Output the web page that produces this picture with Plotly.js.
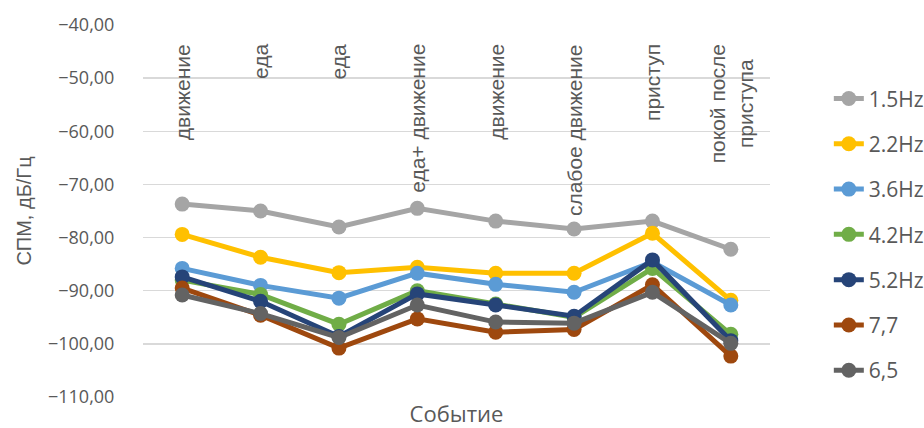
<!DOCTYPE html>
<html><head><meta charset="utf-8">
<script src="https://cdn.plot.ly/plotly-3.0.1.min.js"></script>
<style>html,body{margin:0;padding:0;background:#fff}#chart{width:924px;height:428px}</style>
</head><body><div id="chart"></div>
<script>
const categories = ["движение","еда","еда","еда+ движение","движение","слабое движение","приступ","покой после<br>приступа"];
const seriesNames = ["1.5Hz","2.2Hz","3.6Hz","4.2Hz","5.2Hz","7,7","6,5"];
const s15 = [-73.7,-75.0,-78.0,-74.5,-76.9,-78.4,-76.9,-82.2];
const s22 = [-79.4,-83.7,-86.6,-85.6,-86.7,-86.7,-79.2,-91.8];
const s36 = [-85.8,-89.0,-91.4,-86.7,-88.8,-90.3,-84.6,-92.7];
const s42 = [-88.0,-90.7,-96.3,-90.0,-92.5,-95.0,-85.8,-98.2];
const s52 = [-87.4,-92.0,-98.6,-90.6,-92.7,-94.8,-84.2,-99.4];
const s77 = [-89.5,-94.6,-100.8,-95.3,-97.8,-97.3,-88.9,-102.3];
const s65 = [-90.8,-94.3,-98.8,-92.7,-95.9,-96.1,-90.3,-99.9];
const colors = ["#A5A5A5","#FFC000","#5B9BD5","#70AD47","#264478","#9E480E","#636363"];
const allSeries = [s15,s22,s36,s42,s52,s77,s65];
const xIdx = categories.map((c,i)=>i);

const traces = allSeries.map((s,k)=>({
  type:'scatter', mode:'lines+markers', name:seriesNames[k], legendgroup:'g'+k,
  x:xIdx, y:s, line:{color:colors[k], width:5}, marker:{color:colors[k], size:15},
  hoverinfo:'skip'
}));

const annotations = categories.map((c,i)=>({
  x:i, xref:'x', y:1, yref:'paper', yanchor:'top', xanchor:'center', yshift:-17,
  text:c, textangle:-90, showarrow:false,
  font:{family:'Liberation Sans, Arial, sans-serif', size:21, color:'#595959'}
}));

const layout = {
  width:924, height:428,
  margin:{l:143, r:154, t:25, b:31, autoexpand:false},
  paper_bgcolor:'#fff', plot_bgcolor:'#fff',
  separators:', ',
  font:{family:'Open Sans, sans-serif', color:'#595959'},
  showlegend:true,
  legend:{xref:'container', yref:'container', x:0.897, xanchor:'left', y:0.817, yanchor:'top', tracegroupgap:15,
    maxheight:420, font:{size:21, color:'#595959'}, bgcolor:'rgba(0,0,0,0)'},
  xaxis:{range:[-0.5,7.5], showgrid:false, zeroline:false, showline:false, automargin:false,
    showticklabels:false, ticks:'', fixedrange:true,
    title:{text:'Событие', font:{size:22, color:'#595959'}, standoff:13}},
  yaxis:{range:[-110,-40], dtick:10, tickformat:'.2f', showgrid:true, gridcolor:'#D9D9D9', automargin:false,
    gridwidth:1.3, zeroline:false, showline:false, ticks:'outside', ticklen:24, tickcolor:'rgba(0,0,0,0)',
    tickfont:{size:18, color:'#595959'},
    title:{text:'СПМ, дБ/Гц', font:{family:'Liberation Sans, Arial, sans-serif', size:20, color:'#595959'}, standoff:10}},
  annotations:annotations
};
Plotly.newPlot('chart', traces, layout, {displayModeBar:false, staticPlot:true});
</script></body></html>
